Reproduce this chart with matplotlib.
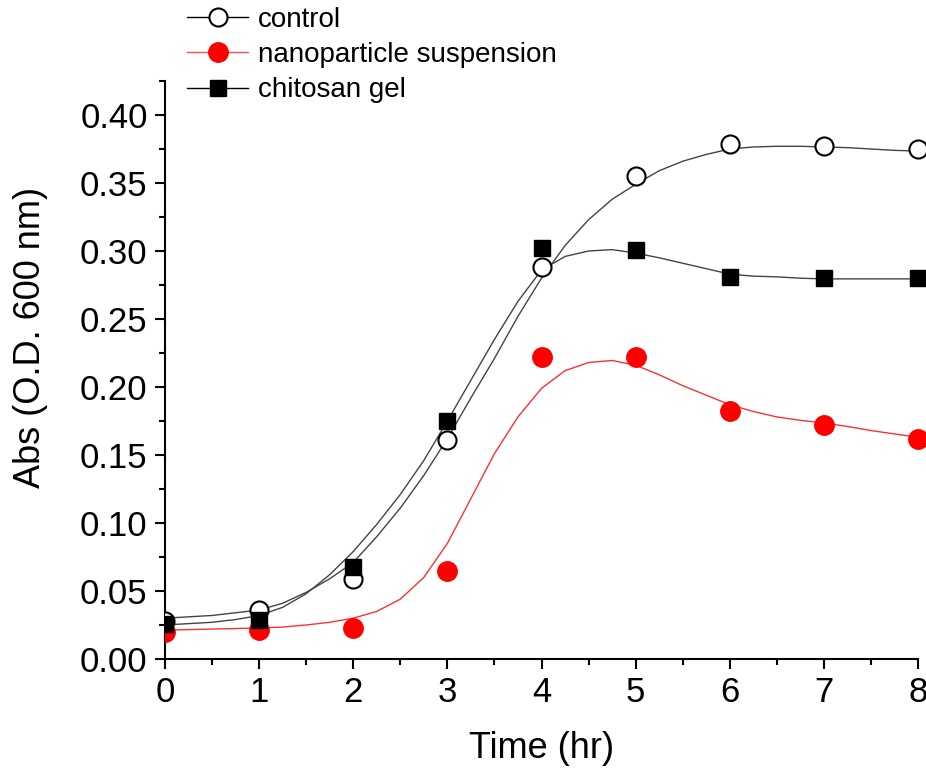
import numpy as np
import matplotlib
matplotlib.use("Agg")
import matplotlib.pyplot as plt
from matplotlib.ticker import MultipleLocator, FormatStrFormatter

plt.rcParams['font.family'] = ['Liberation Sans', 'DejaVu Sans']

# measured points
time_hr = [0, 1, 2, 3, 4, 5, 6, 7, 8]
control = [0.028, 0.036, 0.059, 0.161, 0.288, 0.355, 0.379, 0.377, 0.375]
nano = [0.020, 0.021, 0.023, 0.065, 0.222, 0.222, 0.182, 0.172, 0.162]
chitosan = [0.026, 0.029, 0.068, 0.175, 0.302, 0.301, 0.281, 0.280, 0.280]

# fitted curves, every 0.25 hr
fit_t = [0, 0.25, 0.5, 0.75, 1, 1.25, 1.5, 1.75, 2, 2.25, 2.5, 2.75, 3, 3.25, 3.5, 3.75,
         4, 4.25, 4.5, 4.75, 5, 5.25, 5.5, 5.75, 6, 6.25, 6.5, 6.75, 7, 7.25, 7.5, 7.75, 8]
control_fit = [0.030, 0.031, 0.032, 0.034, 0.036, 0.041, 0.049, 0.059, 0.071, 0.090, 0.111,
               0.135, 0.162, 0.192, 0.221, 0.252, 0.280, 0.304, 0.323, 0.338, 0.349, 0.359,
               0.366, 0.371, 0.375, 0.3765, 0.377, 0.377, 0.3765, 0.376, 0.375, 0.374, 0.3735]
chitosan_fit = [0.025, 0.026, 0.027, 0.029, 0.032, 0.038, 0.048, 0.062, 0.079, 0.099, 0.121,
                0.146, 0.175, 0.205, 0.235, 0.263, 0.286, 0.296, 0.300, 0.301, 0.2985, 0.295,
                0.291, 0.287, 0.283, 0.2815, 0.281, 0.280, 0.2795, 0.2795, 0.2795, 0.2795, 0.2795]
nano_fit = [0.0213, 0.0216, 0.022, 0.0224, 0.0228, 0.0235, 0.025, 0.027, 0.030, 0.035, 0.044,
            0.060, 0.085, 0.118, 0.151, 0.178, 0.199, 0.212, 0.218, 0.2195, 0.216, 0.209,
            0.201, 0.194, 0.187, 0.182, 0.178, 0.1755, 0.1735, 0.171, 0.168, 0.1655, 0.163]

fig = plt.figure(figsize=(9.26, 7.69), dpi=100)
ax = fig.add_axes([165/926, 1 - 659/769, 753/926, 578/769])

ax.plot(fit_t, control_fit, color='#444444', lw=1.0, zorder=2)
ax.plot(fit_t, chitosan_fit, color='#444444', lw=1.0, zorder=2)
ax.plot(fit_t, nano_fit, color='#ff3030', lw=1.0, zorder=2)

nano_style = dict(marker='o', ls='none', color='red', ms=14, mec='red', zorder=3)
ctrl_style = dict(marker='o', ls='none', color='white', ms=13, mec='black', mew=1.5, zorder=4)
chit_style = dict(marker='s', ls='none', color='black', ms=12, mec='black', zorder=5)

# markers are cut at the y axis but not at the right edge, like the original
for series, style in [(nano, nano_style), (control, ctrl_style), (chitosan, chit_style)]:
    ax.plot(time_hr[:-1], series[:-1], clip_on=True, **style)
    ax.plot(time_hr[-1:], series[-1:], clip_on=False, **style)

ax.set_xlim(0, 8)
ax.set_ylim(0, 0.425)
ax.xaxis.set_major_locator(MultipleLocator(1))
ax.xaxis.set_minor_locator(MultipleLocator(0.5))
ax.yaxis.set_major_locator(MultipleLocator(0.05))
ax.yaxis.set_minor_locator(MultipleLocator(0.025))
ax.yaxis.set_major_formatter(FormatStrFormatter('%.2f'))

for s in ['top', 'right']:
    ax.spines[s].set_visible(False)
for s in ['left', 'bottom']:
    ax.spines[s].set_linewidth(1.5)

ax.tick_params(which='major', direction='out', length=7.5, width=1.5, labelsize=25, pad=5)
ax.tick_params(which='minor', direction='out', length=4, width=1.5)

ax.set_xlabel('Time (hr)', fontsize=26)
ax.set_ylabel('Abs (O.D. 600 nm)', fontsize=26)
ax.xaxis.set_label_coords(0.5, -0.125)
ax.yaxis.set_label_coords(-0.155, 0.557)

h1, = ax.plot([], [], '-o', color='black', mfc='white', mec='black', mew=1.5, ms=13, lw=1.0)
h2, = ax.plot([], [], '-o', color='#ff5050', mfc='red', mec='red', ms=14, lw=1.0)
h3, = ax.plot([], [], '-s', color='black', ms=12, lw=1.0)
fig.legend([h1, h2, h3], ['control', 'nanoparticle suspension', 'chitosan gel'],
           loc='upper left', bbox_to_anchor=(187/926, 1 - 7/769), frameon=False,
           fontsize=20, handlelength=2.2, handletextpad=0.36, labelspacing=0.33,
           borderpad=0, borderaxespad=0)

fig.savefig('out.png', dpi=100)
